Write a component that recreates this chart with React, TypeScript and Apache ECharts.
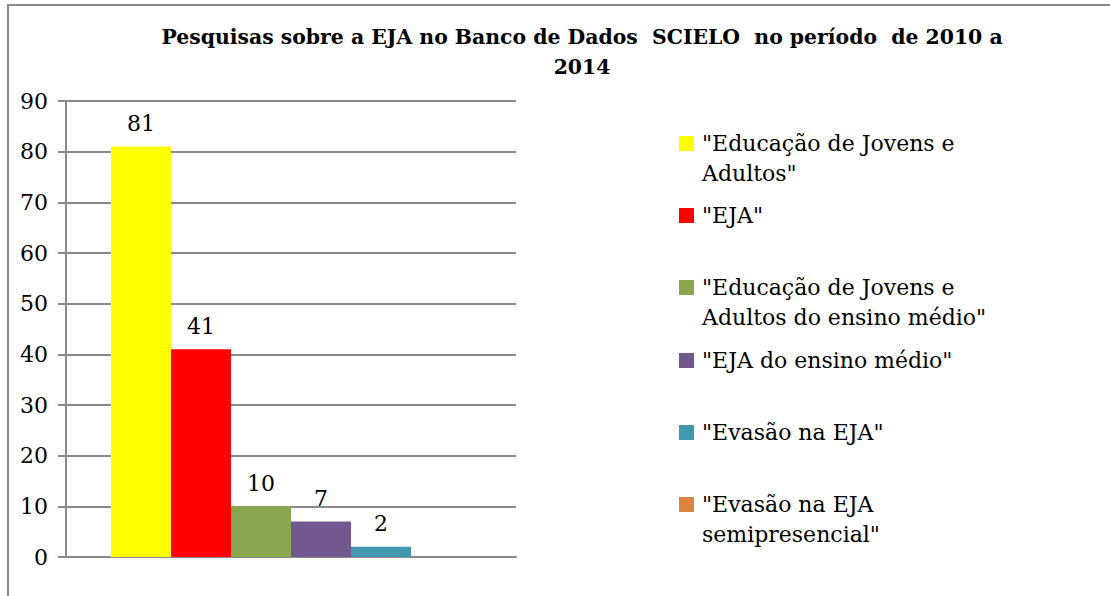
import React, { useEffect, useRef } from "react";
import * as echarts from "echarts";

// ---- data ----
const TITLE_LINES = ["Pesquisas sobre a EJA no Banco de Dados  SCIELO  no período  de 2010 a", "2014"];
const CATEGORIES = [""];
const SERIES_NAMES = [
  '"Educação de Jovens e Adultos"',
  '"EJA"',
  '"Educação de Jovens e Adultos do ensino médio"',
  '"EJA do ensino médio"',
  '"Evasão na EJA"',
  '"Evasão na EJA semipresencial"',
];
const LEGEND_LINES = [
  ['"Educação de Jovens e', 'Adultos"'],
  ['"EJA"'],
  ['"Educação de Jovens e', 'Adultos do ensino médio"'],
  ['"EJA do ensino médio"'],
  ['"Evasão na EJA"'],
  ['"Evasão na EJA', 'semipresencial"'],
];
const SERIES_VALUES = [81, 41, 10, 7, 2, 0];
const SERIES_COLORS = ["#FFFF00", "#FF0000", "#8AA64E", "#71598F", "#4198AF", "#DB843D"];
const Y_MIN = 0;
const Y_MAX = 90;
const Y_INTERVAL = 10;

// ---- layout ----
const FONT = "DejaVu Serif";
const GRAY = "#8a8a8a";
const LEGEND_ICON_TOPS = [136, 208, 280, 353, 425, 497];
const LINE_H = 30;
const FS = 22;

export default function App() {
  const ref = useRef<HTMLDivElement>(null);

  useEffect(() => {
    if (!ref.current) return;
    const chart = echarts.init(ref.current, null, { renderer: "svg" });

    const legends = SERIES_NAMES.map((name, i) => {
      const lines = LEGEND_LINES[i];
      const multi = lines.length > 1;
      // a leading blank line keeps the first text line level with the marker
      const shown = multi ? "\n" + lines.join("\n") : lines[0];
      const boxHalf = multi ? (LINE_H * 3) / 2 : LINE_H / 2;
      return {
        orient: "vertical",
        left: 679,
        top: LEGEND_ICON_TOPS[i] + 7.5 - boxHalf,
        padding: 0,
        itemWidth: 15,
        itemHeight: 15,
        icon: "rect",
        data: [name],
        formatter: () => shown,
        textStyle: {
          fontFamily: FONT,
          fontSize: FS,
          lineHeight: LINE_H,
          color: "#000",
          padding: [0, 0, 0, 3],
          backgroundColor: "rgba(255,255,255,0)",
        },
      };
    });

    const series = SERIES_NAMES.map((name, i) => ({
      name,
      type: "bar",
      barWidth: 60,
      barGap: "0%",
      data: [SERIES_VALUES[i]],
      itemStyle: { color: SERIES_COLORS[i] },
      label: {
        show: true,
        position: "top",
        distance: 12,
        fontFamily: FONT,
        fontSize: FS,
        color: "#000",
        formatter: (p: any) => (p.value === 0 ? "" : String(p.value)),
      },
    }));

    chart.setOption({
      animation: false,
      backgroundColor: "#fff",
      textStyle: { fontFamily: FONT },
      title: {
        text: TITLE_LINES.join("\n"),
        left: 582,
        top: 22,
        padding: 0,
        textAlign: "center",
        textStyle: {
          fontFamily: FONT,
          fontSize: 20.4,
          fontWeight: "bold",
          lineHeight: LINE_H,
          color: "#000",
        },
      },
      legend: legends,
      grid: { left: 66, right: 594, top: 101, bottom: 39 },
      xAxis: {
        type: "category",
        data: CATEGORIES,
        axisLine: { show: true, lineStyle: { color: GRAY, width: 2 } },
        axisTick: { show: false },
        axisLabel: { show: false },
      },
      yAxis: {
        type: "value",
        min: Y_MIN,
        max: Y_MAX,
        interval: Y_INTERVAL,
        axisLine: { show: true, lineStyle: { color: GRAY, width: 2 } },
        axisTick: { show: true, length: 8, lineStyle: { color: GRAY, width: 2 } },
        axisLabel: { margin: 18, fontFamily: FONT, fontSize: FS, color: "#000" },
        splitLine: { show: true, lineStyle: { color: GRAY, width: 2 } },
      },
      graphic: [
        {
          type: "rect",
          silent: true,
          shape: { x: 8, y: 5, width: 2000, height: 2000 },
          style: { fill: "none", stroke: GRAY, lineWidth: 2 },
          z: 100,
        },
      ],
      series,
    });

    return () => chart.dispose();
  }, []);

  return (
    <div
      ref={ref}
      style={{ position: "fixed", left: 0, top: 0, width: 1110, height: 596, background: "#fff" }}
    />
  );
}
